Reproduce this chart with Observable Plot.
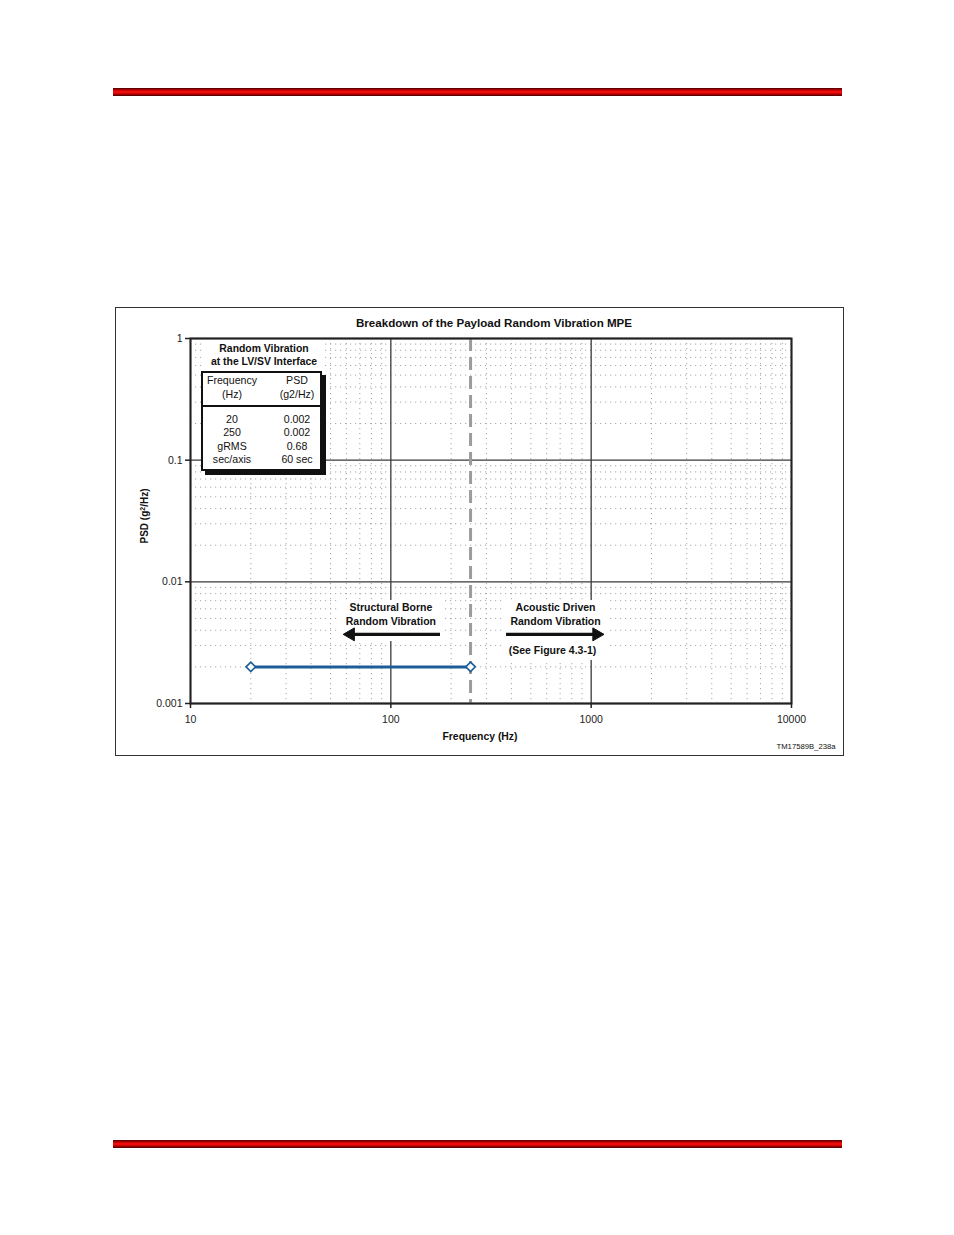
<!DOCTYPE html>
<html>
<head>
<meta charset="utf-8">
<script src="https://cdn.jsdelivr.net/npm/d3@7"></script>
<script src="https://cdn.jsdelivr.net/npm/@observablehq/plot@0.6"></script>
<style>
  html, body { margin: 0; padding: 0; background: #fff; }
  #page { position: relative; width: 954px; height: 1235px; overflow: hidden;
          font-family: "Liberation Sans", Arial, sans-serif; color: #111; }
  .redbar { position: absolute; left: 113px; width: 729px; height: 8px;
            background: linear-gradient(#4a0000, #b00000 22%, #ff1010 50%, #b00000 78%, #400000); }
  .abs { position: absolute; white-space: nowrap; line-height: 1; }
  .c { transform: translate(-50%, -50%); }
  .b { font-weight: bold; }
  #chartbox { position: absolute; left: 115px; top: 307px; width: 727px; height: 447px; border: 1.5px solid #333; }
  #plotwrap { position: absolute; left: 0; top: 0; }
  #legendbox { position: absolute; left: 201px; top: 371px; width: 117px; height: 96px;
               border: 2px solid #111; background: #fff; box-shadow: 4px 4px 0 #111; }
  #legendhead { position: absolute; left: 0; top: 0; width: 117px; height: 32px; border-bottom: 2px solid #111; }
  #legendtitle { position: absolute; left: 205px; top: 341px; width: 117px; height: 28px; background: #fff; }
</style>
</head>
<body>
<div id="page">
  <div class="redbar" style="top:88px"></div>
  <div class="redbar" style="top:1140px"></div>
  <div id="chartbox"></div>
  <div id="plotwrap"></div>
</div>
<script>
// ---- data ----
const freq = [20, 250];            // Hz
const psd = [0.002, 0.002];        // g^2/Hz
const boundaryFreq = [250];        // structural / acoustic split (Hz)
const xMajor = [10, 100, 1000, 10000];
const xTickLabels = ["10", "100", "1000", "10000"];
const yMajor = [0.001, 0.01, 0.1, 1];
const yTickLabels = ["0.001", "0.01", "0.1", "1"];
const minorMultipliers = [2, 3, 4, 5, 6, 7, 8, 9];
const legendHeader = ["Frequency\n(Hz)", "PSD\n(g2/Hz)"];
const legendFreq = ["20", "250", "gRMS", "sec/axis"];
const legendPsd = ["0.002", "0.002", "0.68", "60 sec"];
const title = "Breakdown of the Payload Random Vibration MPE";
const legendTitle = ["Random Vibration", "at the LV/SV Interface"];
// annotations (data space)
const annoText = ["Structural Borne\nRandom Vibration", "Acoustic Driven\nRandom Vibration", "(See Figure 4.3-1)"];
const annoX = [100, 664, 641];
const annoY = [0.0055, 0.0055, 0.00275];
const arrowFrom = [177, 378];
const arrowTo = [63, 1064];
const arrowRotate = [-90, 90];
const arrowY = 0.0037;
const annoBoxX1 = [56, 366];
const annoBoxX2 = [181, 1208];
const annoBoxY1 = [0.00323, 0.00226];
const annoBoxY2 = [0.00702, 0.00702];

// ---- derived ----
const xMinor = xMajor.slice(0, -1).flatMap(d => minorMultipliers.map(m => d * m));
const yMinor = yMajor.slice(0, -1).flatMap(d => minorMultipliers.map(m => +(d * m).toPrecision(3)));
const series = freq.map((f, i) => ({f, p: psd[i]}));
const annos = annoText.map((t, i) => ({t, x: annoX[i], y: annoY[i]}));
const arrows = arrowFrom.map((a, i) => ({x1: a, x2: arrowTo[i], rot: arrowRotate[i], y: arrowY}));
const boxes = annoBoxX1.map((a, i) => ({x1: a, x2: annoBoxX2[i], y1: annoBoxY1[i], y2: annoBoxY2[i]}));

const blue = "#1b5e97";
const chart = Plot.plot({
  width: 954,
  height: 790,
  marginLeft: 190,
  marginRight: 163,
  marginTop: 338,
  marginBottom: 87,
  style: {background: "transparent", color: "#222", fontFamily: "'Liberation Sans', Arial, sans-serif", overflow: "visible"},
  x: {type: "log", domain: [10, 10000]},
  y: {type: "log", domain: [0.001, 1]},
  marks: [
    Plot.ruleX(xMinor, {stroke: "#a8a8a8", strokeWidth: 1, strokeDasharray: "1.2,3.8"}),
    Plot.ruleY(yMinor, {stroke: "#a8a8a8", strokeWidth: 1, strokeDasharray: "1.2,3.8"}),
    Plot.ruleX(xMajor, {stroke: "#3a3a3a", strokeWidth: 1.3}),
    Plot.ruleY(yMajor, {stroke: "#3a3a3a", strokeWidth: 1.3}),
    Plot.rect(boxes, {x1: "x1", x2: "x2", y1: "y1", y2: "y2", fill: "white"}),
    Plot.ruleX(boundaryFreq, {stroke: "#9c9c9c", strokeWidth: 3, strokeDasharray: "13,6"}),
    Plot.line(series, {x: "f", y: "p", stroke: blue, strokeWidth: 3}),
    Plot.dot(series, {x: "f", y: "p", symbol: "diamond2", r: 4.3, fill: "white", stroke: blue, strokeWidth: 1.6}),
    Plot.text(annos, {x: "x", y: "y", text: "t", fontWeight: "bold", fontSize: 10.5, lineHeight: 1.3, fill: "#111"}),
    Plot.ruleY(arrows, {x1: "x1", x2: "x2", y: "y", stroke: "#111", strokeWidth: 3.2}),
    Plot.dot(arrows, {x: "x2", y: "y", symbol: "triangle", rotate: "rot", r: 4.8, fill: "#111", stroke: "#111", strokeWidth: 1}),
    Plot.frame({stroke: "#222", strokeWidth: 2}),
    Plot.axisX({ticks: xMajor, tickFormat: d => xTickLabels[xMajor.indexOf(d)], tickSize: 5, tickPadding: 7,
      fontSize: 10.5, label: null, stroke: "#222", strokeWidth: 1.5}),
    Plot.axisY({ticks: yMajor, tickFormat: d => yTickLabels[yMajor.indexOf(d)], tickSize: 5, tickPadding: 3,
      fontSize: 10.5, label: null, stroke: "#222", strokeWidth: 1.5})
  ]
});
document.getElementById("plotwrap").appendChild(chart);

// ---- html text overlays ----
const page = document.getElementById("page");
function addText(txt, x, y, cls, style) {
  const d = document.createElement("div");
  d.className = "abs c " + (cls || "");
  d.style.left = x + "px"; d.style.top = y + "px";
  Object.assign(d.style, style || {});
  d.innerHTML = txt;
  page.appendChild(d);
  return d;
}
addText(title, 494, 323, "b", {fontSize: "11.6px"});
addText("Frequency (Hz)", 480, 737, "b", {fontSize: "10.4px"});
addText("TM17589B_238a", 806, 747, "", {fontSize: "7.7px"});
addText("PSD (g<sup style='font-size:7px;vertical-align:3px'>2</sup>/Hz)", 144, 516, "b",
  {fontSize: "10px", transform: "translate(-50%,-50%) rotate(-90deg)"});

// legend
const lt = document.createElement("div"); lt.id = "legendtitle"; page.appendChild(lt);
addText(legendTitle[0], 264, 349, "b", {fontSize: "10.4px"});
addText(legendTitle[1], 264, 362, "b", {fontSize: "10.4px"});
const lb = document.createElement("div"); lb.id = "legendbox"; page.appendChild(lb);
const lh = document.createElement("div"); lh.id = "legendhead"; lb.appendChild(lh);
const colX = [232, 297];
legendHeader.forEach((h, i) => {
  h.split("\n").forEach((line, j) => addText(line, colX[i], 380 + j * 13.5, "", {fontSize: "10.6px"}));
});
legendFreq.forEach((v, i) => addText(v, colX[0], 419 + i * 13.4, "", {fontSize: "10.6px"}));
legendPsd.forEach((v, i) => addText(v, colX[1], 419 + i * 13.4, "", {fontSize: "10.6px"}));
</script>
</body>
</html>
